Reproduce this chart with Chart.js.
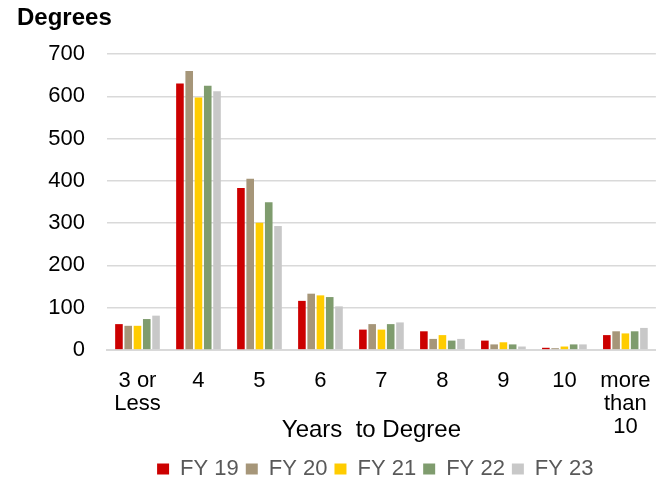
<!DOCTYPE html>
<html>
<head>
<meta charset="utf-8">
<script src="https://cdn.jsdelivr.net/npm/chart.js@4"></script>
<style>
html,body{margin:0;padding:0;background:#fff;}
#wrap{width:670px;height:481px;position:relative;}
</style>
</head>
<body>
<div id="wrap"><canvas id="c" width="670" height="481"></canvas></div>
<script>
const categories = [["3 or","Less"],"4","5","6","7","8","9","10",["more","than","10"]];
const fy19 = [61, 630, 383, 116, 48, 44, 22, 5, 35];
const fy20 = [57, 660, 405, 133, 61, 26, 13, 4, 44];
const fy21 = [57, 597, 301, 129, 48, 35, 18, 8, 39];
const fy22 = [73, 625, 349, 125, 61, 22, 13, 13, 44];
const fy23 = [81, 612, 293, 103, 65, 26, 8, 13, 52];
const seriesNames = ["FY 19","FY 20","FY 21","FY 22","FY 23"];
const colors = ["#CC0000","#A69679","#FFCC00","#7F9C6E","#C8C8C8"];
const yTicks = [0,100,200,300,400,500,600,700];
const yTitle = "Degrees";
const xTitle = "Years  to Degree";

const FONT = "'Liberation Sans', Arial, sans-serif";
const series = [fy19, fy20, fy21, fy22, fy23];

const cornerTitle = {
  id: 'cornerTitle',
  afterDraw(chart) {
    const ctx = chart.ctx;
    ctx.save();
    ctx.font = "bold 24px " + FONT;
    ctx.fillStyle = '#000';
    ctx.textAlign = 'left';
    ctx.textBaseline = 'alphabetic';
    ctx.fillText(yTitle, 17, 25);
    ctx.restore();
  }
};

new Chart(document.getElementById('c'), {
  type: 'bar',
  data: {
    labels: categories,
    datasets: series.map((d, i) => ({
      label: seriesNames[i] + (i === series.length - 1 ? "\u00a0\u00a0" : ""),
      data: d,
      backgroundColor: colors[i],
      borderWidth: 0,
      barPercentage: 0.82,
      categoryPercentage: 0.76
    }))
  },
  plugins: [cornerTitle],
  options: {
    responsive: false,
    animation: false,
    devicePixelRatio: 1,
    layout: { padding: { left: 15, right: 10, top: 54, bottom: -9 } },
    plugins: {
      title: { display: false },
      legend: {
        position: 'bottom',
        fullSize: false,
        labels: {
          color: '#595959',
          font: { family: FONT, size: 22 },
          boxWidth: 12,
          boxHeight: 11,
          padding: 7
        }
      },
      tooltip: { enabled: false }
    },
    scales: {
      x: {
        grid: { display: false, drawTicks: false },
        border: { display: true, color: '#D9D9D9', width: 2 },
        ticks: {
          color: '#000',
          font: { family: FONT, size: 22, lineHeight: 1.05 },
          padding: 19,
          maxRotation: 0,
          autoSkip: false
        },
        title: {
          display: true,
          text: xTitle + "\u00a0\u00a0\u00a0",
          color: '#000',
          font: { family: FONT, size: 24 },
          padding: { top: -41, bottom: 6 }
        }
      },
      y: {
        min: 0,
        max: 700,
        afterBuildTicks: (s) => { s.ticks = yTicks.map(v => ({ value: v })); },
        afterFit: (s) => { s.width = 92; },
        grid: { color: '#D9D9D9', lineWidth: 1.5, drawTicks: false },
        border: { display: false },
        ticks: {
          color: '#000',
          font: { family: FONT, size: 22 },
          padding: 22
        }
      }
    }
  }
});
</script>
</body>
</html>
